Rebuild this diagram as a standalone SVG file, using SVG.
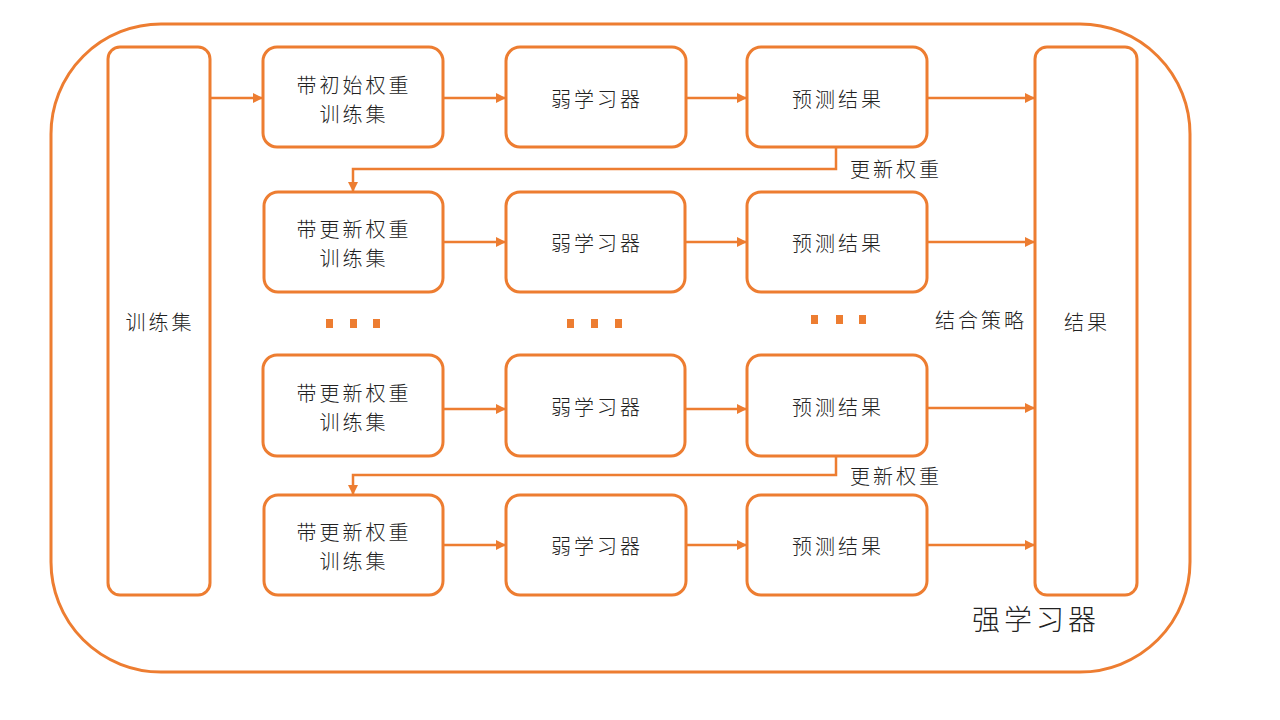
<svg xmlns="http://www.w3.org/2000/svg" width="1280" height="720" viewBox="0 0 1280 720">
<defs>
<marker id="ah" viewBox="0 0 10 10" refX="9" refY="5" markerWidth="4" markerHeight="4" orient="auto" markerUnits="strokeWidth">
<path d="M0,0 L10,5 L0,10 z" fill="#ED7D31"/>
</marker>
<style>
.box{fill:#fff;stroke:#ED7D31;stroke-width:3}
.t{font-family:"Noto Sans CJK SC","Liberation Sans",sans-serif;font-size:20px;font-weight:300;fill:#222;text-anchor:middle;letter-spacing:3px}
.c{fill:none;stroke:#ED7D31;stroke-width:2.5}
.dot{fill:#ED7D31}
</style>
</defs>
<rect width="1280" height="720" fill="#fff"/>
<g id="outer"><rect x="51" y="24" width="1139" height="648" rx="110" ry="110" class="box"/></g>
<g id="trainset"><rect x="108" y="47" width="102" height="548" rx="12" class="box"/><text x="160" y="330" class="t">训练集</text></g>
<g id="result"><rect x="1035" y="47" width="102" height="548" rx="12" class="box"/><text x="1087" y="330" class="t">结果</text></g>

<g id="r1c1"><rect x="263" y="47" width="180" height="100" rx="14" class="box"/><text x="354" y="93" class="t">带初始权重</text><text x="354" y="122" class="t">训练集</text></g>
<g id="r1c2"><rect x="506" y="47" width="180" height="100" rx="14" class="box"/><text x="597" y="107" class="t">弱学习器</text></g>
<g id="r1c3"><rect x="747" y="47" width="180" height="100" rx="14" class="box"/><text x="838" y="107" class="t">预测结果</text></g>

<g id="r2c1"><rect x="264" y="192" width="179" height="100" rx="14" class="box"/><text x="354" y="237" class="t">带更新权重</text><text x="354" y="266" class="t">训练集</text></g>
<g id="r2c2"><rect x="506" y="192" width="179" height="100" rx="14" class="box"/><text x="597" y="251" class="t">弱学习器</text></g>
<g id="r2c3"><rect x="747" y="192" width="180" height="100" rx="14" class="box"/><text x="838" y="251" class="t">预测结果</text></g>

<g id="r3c1"><rect x="263" y="355" width="180" height="101" rx="14" class="box"/><text x="354" y="401" class="t">带更新权重</text><text x="354" y="430" class="t">训练集</text></g>
<g id="r3c2"><rect x="506" y="355" width="179" height="101" rx="14" class="box"/><text x="597" y="415" class="t">弱学习器</text></g>
<g id="r3c3"><rect x="747" y="355" width="180" height="101" rx="14" class="box"/><text x="838" y="415" class="t">预测结果</text></g>

<g id="r4c1"><rect x="264" y="495" width="179" height="100" rx="14" class="box"/><text x="354" y="540" class="t">带更新权重</text><text x="354" y="569" class="t">训练集</text></g>
<g id="r4c2"><rect x="506" y="495" width="180" height="100" rx="14" class="box"/><text x="597" y="554" class="t">弱学习器</text></g>
<g id="r4c3"><rect x="747" y="495" width="180" height="100" rx="14" class="box"/><text x="838" y="554" class="t">预测结果</text></g>

<g id="dots">
<rect x="326" y="319" width="7" height="9" class="dot"/><rect x="350" y="319" width="7" height="9" class="dot"/><rect x="373" y="319" width="7" height="9" class="dot"/>
<rect x="567" y="319" width="7" height="9" class="dot"/><rect x="591" y="319" width="7" height="9" class="dot"/><rect x="615" y="319" width="7" height="9" class="dot"/>
<rect x="811" y="315" width="7" height="9" class="dot"/><rect x="836" y="315" width="7" height="9" class="dot"/><rect x="859" y="315" width="7" height="9" class="dot"/>
</g>

<g id="connectors">
<path d="M210,98 L262,98" class="c" marker-end="url(#ah)"/>
<path d="M443,98 L505,98" class="c" marker-end="url(#ah)"/>
<path d="M686,98 L746,98" class="c" marker-end="url(#ah)"/>
<path d="M927,98 L1034,98" class="c" marker-end="url(#ah)"/>

<path d="M443,242 L505,242" class="c" marker-end="url(#ah)"/>
<path d="M685,242 L746,242" class="c" marker-end="url(#ah)"/>
<path d="M927,242 L1034,242" class="c" marker-end="url(#ah)"/>

<path d="M443,409 L505,409" class="c" marker-end="url(#ah)"/>
<path d="M685,409 L746,409" class="c" marker-end="url(#ah)"/>
<path d="M927,408 L1034,408" class="c" marker-end="url(#ah)"/>

<path d="M443,545 L505,545" class="c" marker-end="url(#ah)"/>
<path d="M686,545 L746,545" class="c" marker-end="url(#ah)"/>
<path d="M927,545 L1034,545" class="c" marker-end="url(#ah)"/>

<path d="M836,147 L836,169 L353,169 L353,191" class="c" marker-end="url(#ah)"/>
<path d="M836,456 L836,475 L353,475 L353,494" class="c" marker-end="url(#ah)"/>
</g>

<g id="labels">
<text x="896" y="177" class="t">更新权重</text>
<text x="896" y="484" class="t">更新权重</text>
<text x="981" y="328" class="t">结合策略</text>
<text x="1036" y="630" class="t" style="font-size:28px;letter-spacing:4px">强学习器</text>
</g>
</svg>
